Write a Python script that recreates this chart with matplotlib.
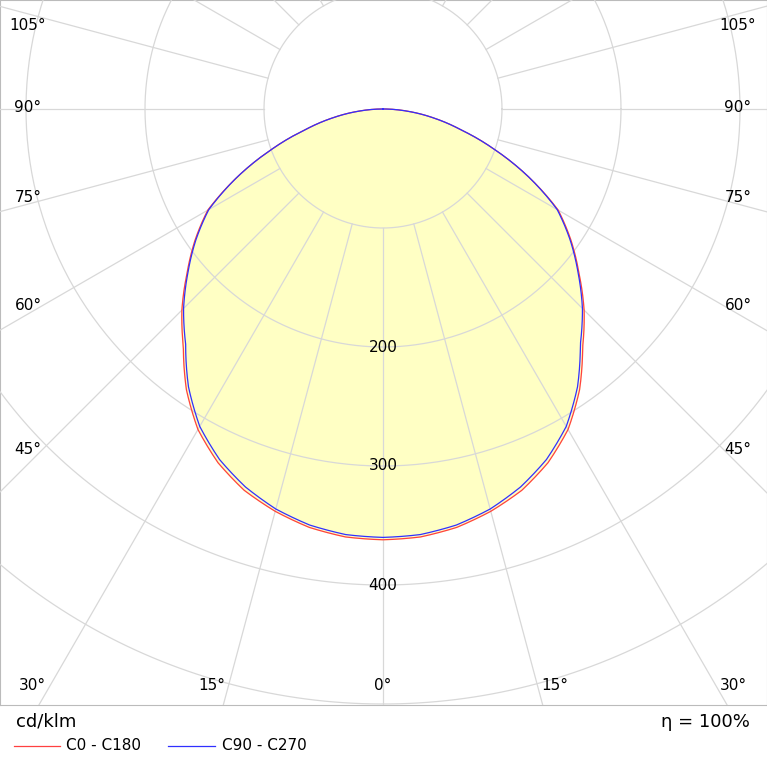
import numpy as np
import matplotlib.pyplot as plt

# luminous intensity distribution, cd/klm
gamma = [0, 5, 10, 15, 20, 25, 30, 35, 40, 45, 50, 55, 60, 65, 70, 75, 80, 85, 90]
c0_c180 = [362, 361, 357, 350, 341, 328, 311, 288, 261, 239, 215, 193, 170, 135, 100, 68, 43, 20, 0]
c90_c270 = [360, 359, 355, 348, 338, 325, 308, 285, 258, 237, 214, 192, 169, 135, 100, 68, 43, 20, 0]
rings = [100, 200, 300, 400, 500, 600, 700]
ring_labels = [200, 300, 400]

W, H = 767, 767
px = 1.19  # pixels per cd
cx, cy = 383, 109
top_band = 705

fig = plt.figure(figsize=(W / 100, H / 100), dpi=100)
ax = fig.add_axes([0, (H - top_band) / H, 1, top_band / H])
ax.set_xlim(-cx / px, (W - cx) / px)
ax.set_ylim(-(top_band - cy) / px, cy / px)
ax.set_xticks([])
ax.set_yticks([])
for s in ax.spines.values():
    s.set_color('#bbbbbb')

t = np.linspace(0, 2 * np.pi, 400)
for r in rings:
    ax.plot(r * np.cos(t), r * np.sin(t), color='#d8d8d8', lw=0.9, zorder=3)
for a in range(0, 360, 15):
    th = np.radians(a)
    ax.plot([100 * np.sin(th), 900 * np.sin(th)], [-100 * np.cos(th), -900 * np.cos(th)],
            color='#d8d8d8', lw=0.9, zorder=3)


def curve(vals):
    # straight segments in polar space, like a polar axes draws them
    g = np.array(gamma, float)
    gg = np.linspace(-90, 90, 721)
    vv = np.interp(np.abs(gg), g, np.array(vals, float))
    th = np.radians(gg)
    return vv * np.sin(th), -vv * np.cos(th)


x0, y0 = curve(c0_c180)
x9, y9 = curve(c90_c270)
ax.fill(x0, y0, color='#ffffc4', zorder=2)
ax.plot(x0, y0, color='#ff4040', lw=0.9, zorder=4)
ax.plot(x9, y9, color='#3030ff', lw=0.9, zorder=4)

for r in ring_labels:
    ax.text(0, -r, str(r), ha='center', va='center', fontsize=11, zorder=5)

side = [(105, 25), (90, 107), (75, 198), (60, 305), (45, 450)]
for lab, ypx in side:
    ax.text(28 / W, 1 - ypx / top_band, f'{lab}°', transform=ax.transAxes,
            ha='center', va='center', fontsize=11)
    ax.text(738 / W, 1 - ypx / top_band, f'{lab}°', transform=ax.transAxes,
            ha='center', va='center', fontsize=11)
bottom = [('30°', 32), ('15°', 212), ('0°', 383), ('15°', 555), ('30°', 733)]
for lab, xpx in bottom:
    ax.text(xpx / W, 1 - 685 / top_band, lab, transform=ax.transAxes,
            ha='center', va='center', fontsize=11)

fig.text(16 / W, 1 - 722 / H, 'cd/klm', fontsize=13, va='center')
fig.text(750 / W, 1 - 722 / H, 'η = 100%', fontsize=13, va='center', ha='right')
fig.add_artist(plt.Line2D([14 / W, 60 / W], [1 - 746 / H] * 2, color='#ff4040', lw=0.9))
fig.text(66 / W, 1 - 746 / H, 'C0 - C180', fontsize=11, va='center')
fig.add_artist(plt.Line2D([168 / W, 215 / W], [1 - 746 / H] * 2, color='#3030ff', lw=0.9))
fig.text(222 / W, 1 - 746 / H, 'C90 - C270', fontsize=11, va='center')

fig.savefig('out.png', dpi=100)
